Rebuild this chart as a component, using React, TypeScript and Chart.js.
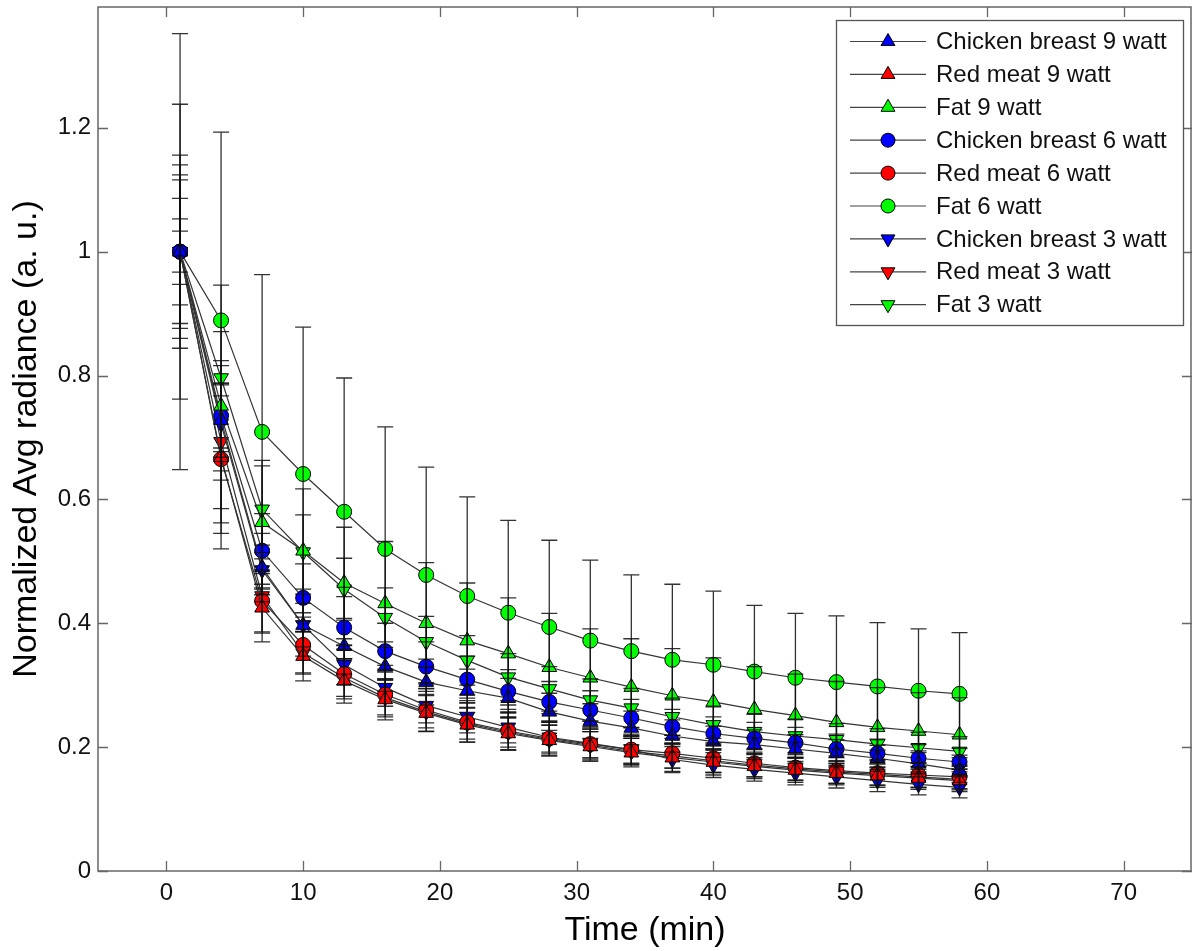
import React, { useEffect, useRef } from "react";
import { Chart, registerables } from "chart.js";

Chart.register(...registerables);

const times = [1, 4, 7, 10, 13, 16, 19, 22, 25, 28, 31, 34, 37, 40, 43, 46, 49, 52, 55, 58];

const seriesLabels = [
  "Chicken breast 9 watt",
  "Red meat 9 watt",
  "Fat 9 watt",
  "Chicken breast 6 watt",
  "Red meat 6 watt",
  "Fat 6 watt",
  "Chicken breast 3 watt",
  "Red meat 3 watt",
  "Fat 3 watt",
];

const chicken9 = [1, 0.728, 0.49, 0.397, 0.363, 0.33, 0.305, 0.291, 0.279, 0.257, 0.242, 0.231, 0.218, 0.209, 0.204, 0.197, 0.19, 0.182, 0.173, 0.163];
const red9 = [1, 0.668, 0.425, 0.347, 0.307, 0.277, 0.255, 0.236, 0.222, 0.211, 0.201, 0.191, 0.183, 0.176, 0.169, 0.163, 0.158, 0.154, 0.15, 0.146];
const fat9 = [1, 0.751, 0.563, 0.517, 0.465, 0.432, 0.4, 0.372, 0.351, 0.329, 0.312, 0.297, 0.283, 0.273, 0.261, 0.251, 0.24, 0.232, 0.226, 0.22];
const chicken6 = [1, 0.735, 0.517, 0.441, 0.393, 0.355, 0.33, 0.309, 0.29, 0.273, 0.26, 0.247, 0.233, 0.222, 0.214, 0.207, 0.197, 0.19, 0.182, 0.176];
const red6 = [1, 0.665, 0.436, 0.365, 0.318, 0.285, 0.26, 0.24, 0.226, 0.214, 0.205, 0.196, 0.19, 0.182, 0.174, 0.167, 0.162, 0.158, 0.155, 0.152];
const fat6 = [1, 0.889, 0.709, 0.641, 0.58, 0.52, 0.478, 0.444, 0.417, 0.394, 0.372, 0.355, 0.341, 0.333, 0.322, 0.312, 0.305, 0.298, 0.291, 0.286];
const chicken3 = [1, 0.722, 0.486, 0.397, 0.333, 0.296, 0.267, 0.249, 0.232, 0.216, 0.206, 0.196, 0.18, 0.171, 0.164, 0.158, 0.152, 0.146, 0.14, 0.135];
const red3 = [1, 0.693, 0.444, 0.352, 0.312, 0.28, 0.257, 0.238, 0.224, 0.212, 0.203, 0.193, 0.186, 0.178, 0.171, 0.165, 0.16, 0.156, 0.152, 0.148];
const fat3 = [1, 0.796, 0.584, 0.515, 0.455, 0.409, 0.37, 0.34, 0.313, 0.294, 0.276, 0.263, 0.249, 0.236, 0.225, 0.218, 0.212, 0.205, 0.199, 0.193];

const chicken9Err = [0.116, 0.06, 0.055, 0.05, 0.045, 0.04, 0.037, 0.035, 0.032, 0.03, 0.028, 0.027, 0.026, 0.025, 0.024, 0.023, 0.022, 0.021, 0.021, 0.02];
const red9Err = [0.086, 0.148, 0.055, 0.04, 0.036, 0.033, 0.03, 0.028, 0.027, 0.025, 0.024, 0.023, 0.022, 0.021, 0.02, 0.02, 0.019, 0.019, 0.018, 0.018];
const fat9Err = [0.238, 0.12, 0.1, 0.1, 0.09, 0.1, 0.098, 0.093, 0.09, 0.087, 0.079, 0.078, 0.076, 0.071, 0.069, 0.067, 0.066, 0.064, 0.062, 0.06];
const chicken6Err = [0.14, 0.052, 0.06, 0.055, 0.05, 0.045, 0.04, 0.038, 0.035, 0.033, 0.031, 0.03, 0.028, 0.027, 0.026, 0.025, 0.024, 0.023, 0.022, 0.022];
const red6Err = [0.124, 0.12, 0.05, 0.045, 0.04, 0.036, 0.034, 0.032, 0.03, 0.028, 0.026, 0.025, 0.024, 0.023, 0.022, 0.021, 0.021, 0.02, 0.02, 0.019];
const fat6Err = [0.352, 0.304, 0.254, 0.237, 0.216, 0.197, 0.174, 0.16, 0.149, 0.14, 0.13, 0.123, 0.122, 0.119, 0.107, 0.104, 0.107, 0.103, 0.1, 0.099];
const chicken3Err = [0.053, 0.045, 0.04, 0.035, 0.032, 0.03, 0.028, 0.026, 0.025, 0.024, 0.023, 0.022, 0.021, 0.02, 0.019, 0.019, 0.018, 0.018, 0.017, 0.017];
const red3Err = [0.033, 0.131, 0.06, 0.034, 0.03, 0.028, 0.026, 0.025, 0.024, 0.023, 0.022, 0.021, 0.02, 0.019, 0.019, 0.018, 0.018, 0.017, 0.017, 0.017];
const fat3Err = [0.156, 0.15, 0.07, 0.06, 0.05, 0.048, 0.041, 0.04, 0.038, 0.036, 0.034, 0.032, 0.03, 0.029, 0.028, 0.027, 0.026, 0.025, 0.025, 0.024];

const xTickValues = [0, 10, 20, 30, 40, 50, 60, 70];
const yTickValues = [0, 0.2, 0.4, 0.6, 0.8, 1, 1.2];

const seriesValues = [chicken9, red9, fat9, chicken6, red6, fat6, chicken3, red3, fat3];
const seriesErrors = [chicken9Err, red9Err, fat9Err, chicken6Err, red6Err, fat6Err, chicken3Err, red3Err, fat3Err];
const seriesColors = ["#0000ff", "#ff0000", "#00ff00", "#0000ff", "#ff0000", "#00ff00", "#0000ff", "#ff0000", "#00ff00"];
const seriesShapes = ["up", "up", "up", "circle", "circle", "circle", "down", "down", "down"];

const FONT = "'Liberation Sans', Arial, Helvetica, sans-serif";

// plot box in canvas pixels
const AREA = { left: 98, right: 1192, top: 7, bottom: 871 };

function drawMarker(ctx: CanvasRenderingContext2D, shape: string, x: number, y: number, color: string) {
  ctx.save();
  ctx.fillStyle = color;
  ctx.strokeStyle = "#000";
  ctx.lineWidth = 1;
  ctx.beginPath();
  if (shape === "circle") {
    ctx.arc(x, y, 7, 0, Math.PI * 2);
  } else {
    const r = 8;
    const dir = shape === "up" ? 1 : -1;
    for (let k = 0; k < 3; k++) {
      const a = (k * 2 * Math.PI) / 3;
      const px = x + Math.sin(a) * r;
      const py = y - dir * Math.cos(a) * r;
      if (k === 0) ctx.moveTo(px, py);
      else ctx.lineTo(px, py);
    }
    ctx.closePath();
  }
  ctx.fill();
  ctx.stroke();
  ctx.restore();
}

const areaPlugin = {
  id: "fixedArea",
  afterLayout(chart: any) {
    const ca = chart.chartArea;
    ca.left = AREA.left;
    ca.right = AREA.right;
    ca.top = AREA.top;
    ca.bottom = AREA.bottom;
    ca.width = AREA.right - AREA.left;
    ca.height = AREA.bottom - AREA.top;
    const xs = chart.scales.x;
    xs.left = AREA.left;
    xs.right = AREA.right;
    xs.width = AREA.right - AREA.left;
    xs.top = AREA.bottom;
    xs.bottom = chart.height;
    xs.height = chart.height - AREA.bottom;
    xs.configure();
    const ys = chart.scales.y;
    ys.top = AREA.top;
    ys.bottom = AREA.bottom;
    ys.height = AREA.bottom - AREA.top;
    ys.left = 0;
    ys.right = AREA.left;
    ys.width = AREA.left;
    ys.configure();
  },
};

const errorBarPlugin = {
  id: "errorBars",
  afterDatasetsDraw(chart: any) {
    const { ctx, chartArea, scales } = chart;
    const xs = scales.x;
    const ys = scales.y;
    ctx.save();
    ctx.beginPath();
    ctx.rect(chartArea.left, chartArea.top, chartArea.right - chartArea.left, chartArea.bottom - chartArea.top);
    ctx.clip();
    ctx.strokeStyle = "rgba(15,15,15,0.85)";
    ctx.lineWidth = 1.3;
    seriesErrors.forEach((errs, i) => {
      const vals = seriesValues[i];
      times.forEach((t, j) => {
        const px = xs.getPixelForValue(t);
        const top = ys.getPixelForValue(vals[j] + errs[j]);
        const bot = ys.getPixelForValue(vals[j] - errs[j]);
        ctx.beginPath();
        ctx.moveTo(px, top);
        ctx.lineTo(px, bot);
        ctx.moveTo(px - 8, top);
        ctx.lineTo(px + 8, top);
        ctx.moveTo(px - 8, bot);
        ctx.lineTo(px + 8, bot);
        ctx.stroke();
      });
    });
    ctx.restore();
  },
};

const framePlugin = {
  id: "frame",
  afterDraw(chart: any) {
    const { ctx, chartArea, scales } = chart;
    const { left, right, top, bottom } = chartArea;
    ctx.save();
    ctx.strokeStyle = "#666";
    ctx.lineWidth = 1.5;
    ctx.strokeRect(left, top, right - left - 1, bottom - top);
    ctx.lineWidth = 1.3;
    ctx.beginPath();
    xTickValues.forEach((v) => {
      const px = Math.round(scales.x.getPixelForValue(v)) + 0.5;
      ctx.moveTo(px, bottom);
      ctx.lineTo(px, bottom - 10);
      ctx.moveTo(px, top);
      ctx.lineTo(px, top + 10);
    });
    yTickValues.forEach((v) => {
      const py = Math.round(scales.y.getPixelForValue(v)) + 0.5;
      ctx.moveTo(left, py);
      ctx.lineTo(left + 10, py);
      ctx.moveTo(right, py);
      ctx.lineTo(right - 10, py);
    });
    ctx.stroke();

    // legend
    const lx = 836, ly = 20, lw = 347, lh = 305;
    ctx.fillStyle = "#fff";
    ctx.fillRect(lx, ly, lw, lh);
    ctx.strokeStyle = "#555";
    ctx.lineWidth = 1.3;
    ctx.strokeRect(lx + 0.5, ly + 0.5, lw, lh);
    ctx.font = `24px ${FONT}`;
    ctx.textBaseline = "middle";
    ctx.textAlign = "left";
    chart.data.datasets.forEach((ds: any, i: number) => {
      const cy = 41.5 + i * 32.9;
      ctx.strokeStyle = "#444";
      ctx.lineWidth = 1.2;
      ctx.beginPath();
      ctx.moveTo(850, cy);
      ctx.lineTo(926, cy);
      ctx.stroke();
      drawMarker(ctx, seriesShapes[i], 888, cy, seriesColors[i]);
      ctx.fillStyle = "#111";
      ctx.fillText(ds.label, 936, cy + 1);
    });
    ctx.restore();
  },
};

export default function App() {
  const canvasRef = useRef<HTMLCanvasElement | null>(null);

  useEffect(() => {
    if (!canvasRef.current) return;
    Chart.defaults.font.family = FONT;
    const datasets = seriesValues.map((vals, i) => ({
      label: seriesLabels[i],
      data: vals.map((v, j) => ({ x: times[j], y: v })),
      borderColor: "#333",
      borderWidth: 1.2,
      backgroundColor: seriesColors[i],
      pointBackgroundColor: seriesColors[i],
      pointBorderColor: "#000",
      pointBorderWidth: 1,
      pointStyle: seriesShapes[i] === "circle" ? "circle" : "triangle",
      pointRotation: seriesShapes[i] === "down" ? 180 : 0,
      pointRadius: seriesShapes[i] === "circle" ? 7.5 : 8.5,
      tension: 0,
      fill: false,
    }));

    const chart = new Chart(canvasRef.current, {
      type: "line",
      data: { datasets },
      options: {
        animation: false,
        responsive: true,
        maintainAspectRatio: false,
        layout: { padding: 0 },
        plugins: { legend: { display: false }, tooltip: { enabled: false } },
        scales: {
          x: {
            type: "linear",
            min: -5,
            max: 75,
            grid: { display: false, drawTicks: false },
            border: { display: false },
            ticks: { font: { size: 24 }, color: "#111", padding: 8, autoSkip: false, maxRotation: 0 },
            afterBuildTicks: (s: any) => {
              s.ticks = xTickValues.map((v) => ({ value: v }));
            },
            title: {
              display: true,
              text: "Time (min)",
              font: { size: 34 },
              color: "#000",
              padding: { top: 0, bottom: 0 },
            },
          },
          y: {
            type: "linear",
            min: 0,
            max: 1.395,
            grid: { display: false, drawTicks: false },
            border: { display: false },
            ticks: {
              font: { size: 24 },
              color: "#111",
              padding: 7,
              callback: (v: any) => String(Number(Number(v).toFixed(1))),
            },
            afterBuildTicks: (s: any) => {
              s.ticks = yTickValues.map((v) => ({ value: v }));
            },
            title: {
              display: true,
              text: "Normalized Avg radiance (a. u.)",
              font: { size: 34 },
              color: "#000",
              padding: { top: 6, bottom: 0 },
            },
          },
        },
      },
      plugins: [areaPlugin, errorBarPlugin, framePlugin],
    });
    return () => chart.destroy();
  }, []);

  return (
    <div style={{ position: "absolute", left: 0, top: 0, width: 1192, height: 951, background: "#fff" }}>
      <canvas ref={canvasRef} />
    </div>
  );
}
